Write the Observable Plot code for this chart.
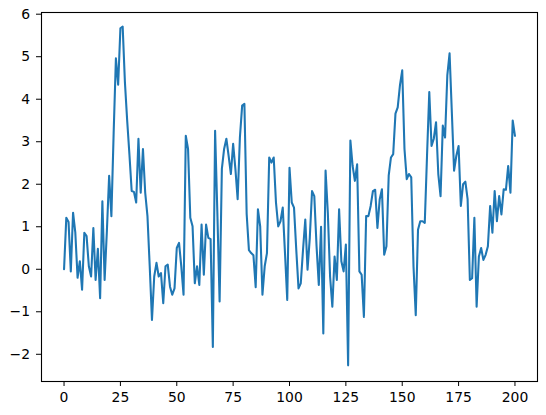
<!DOCTYPE html>
<html><head><meta charset="utf-8">
<script src="https://cdn.jsdelivr.net/npm/d3@7"></script>
<script src="https://cdn.jsdelivr.net/npm/@observablehq/plot@0.6"></script>
<style>body{margin:0;background:#fff}</style>
</head><body><div id="chart"></div>
<script>
const values = [
  0.0, 1.21, 1.11, -0.05, 1.33, 0.86, -0.2, 0.19, -0.48, 0.86,
  0.78, 0.07, -0.17, 0.97, -0.25, 0.48, -0.68, 1.6, -0.25, 0.9,
  2.2, 1.25, 3.2, 4.96, 4.34, 5.67, 5.71, 4.4, 3.5, 2.7,
  1.84, 1.82, 1.57, 3.07, 1.8, 2.83, 1.8, 1.25, 0.07, -1.19,
  -0.17, 0.15, -0.17, -0.09, -0.8, 0.07, 0.11, -0.41, -0.6, -0.45,
  0.5, 0.62, 0.07, -0.6, 3.14, 2.83, 1.21, 1.01, -0.33, 0.07,
  -0.37, 1.05, -0.13, 1.05, 0.74, 0.71, -1.83, 3.26, 1.33, -0.76,
  2.36, 2.83, 3.07, 2.67, 2.24, 2.95, 2.36, 1.65, 3.1, 3.85,
  3.89, 1.3, 0.45, 0.38, 0.33, -0.42, 1.41, 1.01, -0.6, 0.07,
  0.38, 2.63, 2.51, 2.63, 1.57, 1.01, 1.13, 1.45, 0.38, -0.72,
  2.39, 1.57, 1.45, 0.46, -0.45, -0.33, 0.46, 1.17, -0.01, 0.74,
  1.84, 1.72, 0.54, -0.37, 1.0, -1.51, 2.32, 1.33, -0.17, -0.88,
  0.3, -0.25, 1.41, 0.19, -0.05, 0.58, -2.26, 3.03, 2.43, 2.08,
  2.47, -0.05, -0.13, -1.12, 1.25, 1.25, 1.49, 1.84, 1.87, 0.97,
  1.64, 1.88, 0.34, 0.54, 2.2, 2.63, 2.71, 3.66, 3.81, 4.33,
  4.68, 2.83, 2.12, 2.24, 2.16, 0.07, -1.08, 0.93, 1.13, 1.13,
  1.09, 2.67, 4.17, 2.9, 3.07, 3.46, 2.24, 1.72, 3.38, 3.1,
  4.56, 5.08, 3.7, 2.32, 2.67, 2.9, 1.49, 2.0, 2.06, 1.65,
  -0.25, -0.21, 1.21, -0.88, 0.3, 0.5, 0.22, 0.34, 0.54, 1.49,
  0.86, 1.84, 1.13, 1.72, 1.29, 1.88, 1.87, 2.43, 1.8, 3.5,
  3.14
];
const xTicks = [0, 25, 50, 75, 100, 125, 150, 175, 200];
const yTicks = [-2, -1, 0, 1, 2, 3, 4, 5, 6];

const data = values.map((v, i) => ({x: i, y: v}));

const chart = Plot.plot({
  width: 546,
  height: 415,
  marginLeft: 41,
  marginRight: 9,
  marginTop: 12,
  marginBottom: 34,
  style: {fontFamily: "DejaVu Sans", fontSize: "13.9px", color: "black", background: "white", overflow: "visible"},
  x: {domain: [-10, 210], ticks: xTicks, label: null, tickSize: 5, tickPadding: 6},
  y: {domain: [-2.64, 6.04], ticks: yTicks, label: null, tickSize: 5, tickPadding: 6.5},
  marks: [
    Plot.line(data, {x: "x", y: "y", stroke: "#1f77b4", strokeWidth: 2.08}),
    Plot.frame({stroke: "black", strokeWidth: 1.1})
  ]
});
document.getElementById("chart").appendChild(chart);
</script>
</body></html>
